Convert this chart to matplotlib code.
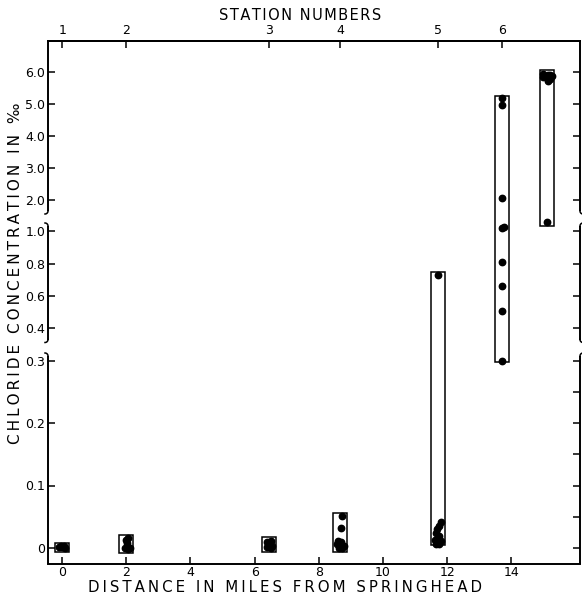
import numpy as np
import matplotlib
matplotlib.use("Agg")
import matplotlib.pyplot as plt

# ---------------- data ----------------
station_miles = [0.0, 2.0, 6.46, 8.66, 11.72, 13.72, 15.12]
station_numbers = ["1", "2", "3", "4", "5", "6"]
box_low = [-0.006, -0.008, -0.006, -0.006, 0.005, 0.297, 1.18]
box_high = [0.008, 0.021, 0.017, 0.056, 0.75, 5.26, 6.05]

dots_x = [
    -0.10, 0.00, 0.10, 0.05, -0.05,
    2.05, 1.98, 2.03, 1.95, 2.05, 2.10,
    6.40, 6.50, 6.45, 6.55, 6.38, 6.50,
    8.72, 8.68, 8.60, 8.58, 8.68, 8.78, 8.62, 8.72,
    11.72, 11.80, 11.75, 11.68, 11.65, 11.74, 11.62, 11.70, 11.80, 11.66, 11.76,
    13.72, 13.70, 13.72, 13.70, 13.78, 13.72, 13.70, 13.72, 13.72,
    14.98, 15.06, 15.14, 15.22, 15.28, 15.10, 15.20, 15.00, 15.14, 15.12,
]
dots_y = [
    0.001, 0.002, 0.000, 0.004, 0.003,
    0.016, 0.013, 0.008, 0.000, -0.002, 0.000,
    0.010, 0.012, 0.005, 0.003, 0.002, 0.000,
    0.051, 0.032, 0.012, 0.006, 0.010, 0.004, 0.000, 0.000,
    0.73, 0.042, 0.036, 0.030, 0.024, 0.020, 0.013, 0.010, 0.012, 0.006, 0.007,
    5.17, 4.97, 2.04, 1.10, 1.15, 0.808, 0.661, 0.506, 0.300,
    5.93, 5.88, 5.92, 5.90, 5.86, 5.80, 5.78, 5.85, 5.72, 1.31,
]

x_ticks = [0, 2, 4, 6, 8, 10, 12, 14]
y_ticks = [0, 0.1, 0.2, 0.3, 0.4, 0.6, 0.8, 1.0, 2.0, 3.0, 4.0, 5.0, 6.0]
y_tick_labels = ["0", "0.1", "0.2", "0.3", "0.4", "0.6", "0.8", "1.0",
                 "2.0", "3.0", "4.0", "5.0", "6.0"]
right_ticks = [0, 0.05, 0.1, 0.15, 0.2, 0.25, 0.3, 0.4, 0.6, 0.8, 1.0,
               2.0, 3.0, 4.0, 5.0, 6.0]

# ---------------- broken (piecewise) y scale ----------------
L_SLOPE = 625.0
M_BASE_V, M_BASE_U, M_SLOPE = 0.4, 220.0, 161.0
U_BASE = M_BASE_U + (1.0 - M_BASE_V) * M_SLOPE
U_SLOPE = 31.88
GAP_LO = 0.3 * L_SLOPE
GAP_HI = M_BASE_U + (0.3 - M_BASE_V) * M_SLOPE


def fwd(v):
    v = np.asarray(v, dtype=float)
    lo = v * L_SLOPE
    mid = M_BASE_U + (v - M_BASE_V) * M_SLOPE
    up = U_BASE + (v - 1.0) * U_SLOPE
    return np.where(v <= 0.3, lo, np.where(v <= 1.0, mid, up))


def inv(u):
    u = np.asarray(u, dtype=float)
    lo = u / L_SLOPE
    mid = M_BASE_V + (u - M_BASE_U) / M_SLOPE
    up = 1.0 + (u - U_BASE) / U_SLOPE
    return np.where(u <= GAP_LO, lo,
                    np.where(u <= GAP_HI, 0.3,
                             np.where(u <= U_BASE, mid, up)))


U_MIN, U_MAX = -15.5, 507.0
Y_LO = float(inv(U_MIN))
Y_HI = float(inv(U_MAX))

W_PX, H_PX = 582, 599
AX_L, AX_R, AX_T, AX_B = 48, 580, 41, 563.5

fig = plt.figure(figsize=(W_PX / 100, H_PX / 100), dpi=100)
ax = fig.add_axes([AX_L / W_PX, 1 - AX_B / H_PX,
                   (AX_R - AX_L) / W_PX, (AX_B - AX_T) / H_PX])
ax.set_yscale("function", functions=(fwd, inv))
ax.set_xlim(-0.44, 16.14)
ax.set_ylim(Y_LO, Y_HI)

LW = 1.4
ax.bar(station_miles, np.array(box_high) - np.array(box_low), bottom=box_low,
       width=0.44, fill=False, edgecolor="black", linewidth=1.1, zorder=2)
ax.plot(dots_x, dots_y, "o", color="black", ms=4.6, ls="none", zorder=3)

ax.set_xticks(x_ticks)
ax.set_xticklabels([str(t) for t in x_ticks])
ax.set_yticks(y_ticks)
ax.set_yticklabels(y_tick_labels)
ax.yaxis.set_minor_locator(matplotlib.ticker.NullLocator())
ax.tick_params(axis="both", direction="in", length=5, width=1.1,
               labelsize=9)
ax.tick_params(axis="x", pad=1.5)
ax.tick_params(axis="y", pad=2)
for side in ("left", "right"):
    ax.spines[side].set_visible(False)
for side in ("top", "bottom"):
    ax.spines[side].set_linewidth(LW)

# right-side ticks
ax2 = ax.twinx()
ax2.set_yscale("function", functions=(fwd, inv))
ax2.set_ylim(Y_LO, Y_HI)
ax2.set_yticks(right_ticks)
ax2.set_yticklabels([])
ax2.yaxis.set_minor_locator(matplotlib.ticker.NullLocator())
ax2.tick_params(axis="y", direction="in", length=5, width=1.1)
for s in ax2.spines.values():
    s.set_visible(False)

# top axis: station numbers
sec = ax.secondary_xaxis("top")
sec.set_xticks(station_miles[:6])
sec.set_xticklabels(station_numbers)
sec.tick_params(direction="in", length=5, width=1.1, labelsize=9, pad=3)
sec.spines["top"].set_linewidth(LW)

# broken side spines with small curls
ax_w = AX_R - AX_L


def fy(u):
    return (np.asarray(u) - U_MIN) / (U_MAX - U_MIN)


segments = [(U_MIN, 192.0), (208.5, 322.0), (337.0, U_MAX)]
r = 3.0
t = np.linspace(0, np.pi / 2, 12)
for xa, sgn in ((0.0, -1.0), (1.0, 1.0)):
    for i, (ua, ub) in enumerate(segments):
        ax.plot([xa, xa], [fy(ua), fy(ub)], transform=ax.transAxes,
                color="black", lw=LW, clip_on=False, solid_capstyle="butt")
        if i > 0:  # curl at bottom end
            cx = xa + sgn * r * (1 - np.cos(t)) / ax_w
            cy = fy(ua - r * np.sin(t))
            ax.plot(cx, cy, transform=ax.transAxes, color="black", lw=1.1,
                    clip_on=False)
        if i < len(segments) - 1:  # curl at top end
            cx = xa + sgn * r * (1 - np.cos(t)) / ax_w
            cy = fy(ub + r * np.sin(t))
            ax.plot(cx, cy, transform=ax.transAxes, color="black", lw=1.1,
                    clip_on=False)


def spaced(s, sep="\u2009"):
    return sep.join(s)


fig.text(300 / W_PX, 1 - 15 / H_PX, spaced("STATION NUMBERS", "\u200a"),
         ha="center", va="center", fontsize=10.5)
fig.text(285 / W_PX, 1 - 592 / H_PX, spaced("DISTANCE IN MILES FROM SPRINGHEAD"),
         ha="center", va="baseline", fontsize=10.8)
fig.text(16 / W_PX, 1 - 273 / H_PX, spaced("CHLORIDE CONCENTRATION IN ‰"),
         ha="center", va="center", fontsize=11, rotation=90)

fig.savefig("out.png", dpi=100)
